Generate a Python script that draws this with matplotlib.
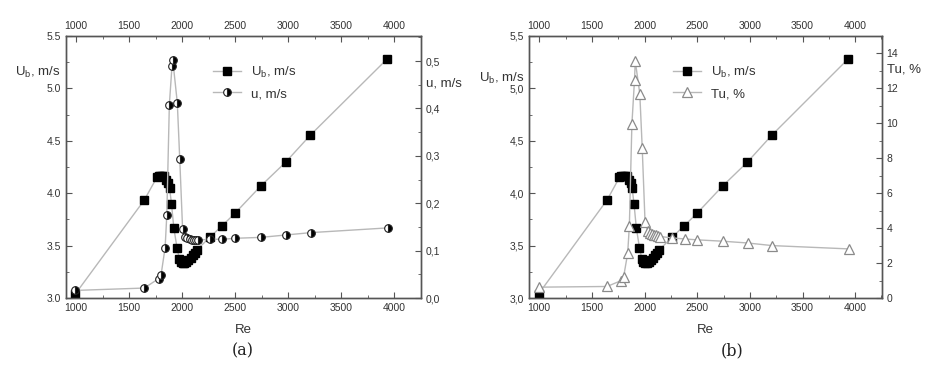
import numpy as np
import matplotlib.pyplot as plt
from matplotlib.ticker import MultipleLocator, FuncFormatter

# Bulk velocity U_b vs Re (same points in both panels)
re_ub = [995, 1644, 1762, 1778, 1795, 1812, 1830, 1850, 1868, 1882, 1900, 1922,
         1952, 1975, 1990, 2005, 2020, 2040, 2060, 2080, 2100, 2120, 2140,
         2262, 2378, 2500, 2743, 2975, 3210, 3932]
ub = [3.04, 3.935, 4.15, 4.16, 4.165, 4.16, 4.16, 4.13, 4.10, 4.05, 3.90, 3.67,
      3.48, 3.37, 3.345, 3.33, 3.33, 3.34, 3.36, 3.38, 3.41, 3.43, 3.46,
      3.58, 3.69, 3.81, 4.07, 4.295, 4.555, 5.28]

# Velocity fluctuation u and turbulence intensity Tu
re_u = [995, 1644, 1780, 1802, 1840, 1856, 1880, 1905, 1912, 1955, 1978, 2005,
        2030, 2050, 2070, 2090, 2110, 2130, 2150, 2262, 2380, 2500, 2745,
        2978, 3213, 3942]
u = [0.016, 0.021, 0.041, 0.049, 0.106, 0.175, 0.408, 0.49, 0.503, 0.412,
     0.293, 0.145, 0.128, 0.126, 0.124, 0.123, 0.122, 0.122, 0.122, 0.124,
     0.124, 0.126, 0.128, 0.133, 0.138, 0.148]
tu = [0.62, 0.66, 1.0, 1.23, 2.56, 4.14, 9.95, 12.5, 13.57, 11.7, 8.6, 4.33,
      3.85, 3.75, 3.68, 3.62, 3.58, 3.55, 3.52, 3.44, 3.38, 3.33, 3.25,
      3.15, 3.0, 2.81]

LINE = '#b8b8b8'
AX = '#555555'
TXT = '#333333'
plt.rcParams['font.family'] = ['Liberation Sans', 'DejaVu Sans']
plt.rcParams['mathtext.fontset'] = 'custom'
plt.rcParams['mathtext.rm'] = 'Liberation Sans'

UB_LABEL = r'U$_\mathrm{b}$, m/s'

W, H = 927, 370
fig = plt.figure(figsize=(W / 100, H / 100), dpi=100)


def comma(fmt):
    return FuncFormatter(lambda v, p: (fmt % v).replace('.', ','))


def style(ax):
    for s in ax.spines.values():
        s.set_color(AX)
        s.set_linewidth(1.0)
    ax.tick_params(which='both', direction='in', colors=AX, labelcolor=TXT,
                   labelsize=7.5, top=True)
    ax.tick_params(which='major', length=4)
    ax.tick_params(which='minor', length=2.5)


def panel(left, right, y2, y2lim, y2major, y2minor, y2fmt, left_fmt,
          marker_kw, lab2, ylab_y, lab2_y, caption, cap_x, leg_x):
    ax = fig.add_axes([left / W, 1 - 298 / H, (right - left) / W, 262 / H])
    ax.plot(re_ub, ub, color=LINE, lw=1, marker='s', ms=5.5, mfc='black',
            mec='black', label=UB_LABEL, zorder=3)
    ax.set_xlim(903, 4252)
    ax.set_ylim(3.0, 5.5)
    ax.xaxis.set_major_locator(MultipleLocator(500))
    ax.xaxis.set_minor_locator(MultipleLocator(250))
    ax.yaxis.set_major_locator(MultipleLocator(0.5))
    ax.yaxis.set_minor_locator(MultipleLocator(0.25))
    ax.yaxis.set_major_formatter(left_fmt)
    style(ax)
    ax.tick_params(axis='x', labeltop=True)
    ax.tick_params(axis='y', right=False)

    ax2 = ax.twinx()
    ax2.plot(re_u, y2, color=LINE, lw=1, label=lab2, zorder=2, **marker_kw)
    ax2.set_ylim(*y2lim)
    ax2.yaxis.set_major_locator(MultipleLocator(y2major))
    ax2.yaxis.set_minor_locator(MultipleLocator(y2minor))
    ax2.yaxis.set_major_formatter(y2fmt)
    style(ax2)
    ax2.tick_params(axis='x', top=False)

    h1, l1 = ax.get_legend_handles_labels()
    h2, l2 = ax2.get_legend_handles_labels()
    ax2.legend(h1 + h2, l1 + l2, loc='upper left', bbox_to_anchor=(leg_x, 0.89),
               frameon=False, fontsize=9.5, handlelength=2.1, handletextpad=0.8,
               labelspacing=0.6, borderpad=0, borderaxespad=0,
               labelcolor=TXT)

    fig.text((left - 5) / W, 1 - ylab_y / H, UB_LABEL, ha='right',
             va='center', fontsize=9.5, color=TXT)
    fig.text((right + 5) / W, 1 - lab2_y / H, lab2, ha='left',
             va='center', fontsize=9.5, color=TXT)
    fig.text((left + right) / 2 / W, 1 - 330 / H, 'Re', ha='center',
             va='center', fontsize=9.5, color=TXT)
    fig.text(cap_x / W, 1 - 351 / H, caption, ha='center', va='center',
             fontsize=11.5, family='DejaVu Serif', color='#222222')
    return ax, ax2


panel(65.7, 421, u, (0, 0.553), 0.1, 0.05, comma('%.1f'),
      FuncFormatter(lambda v, p: '%.1f' % v),
      dict(marker='o', ms=5.5, fillstyle='right', mfc='black', mec='#222222',
           mfcalt='white', mew=0.8),
      'u, m/s', 72, 83, '(a)', 243, 0.415)

panel(529, 881.7, tu, (0, 15), 2, 1, FuncFormatter(lambda v, p: '%d' % v),
      comma('%.1f'),
      dict(marker='^', ms=7, mfc='white', mec='#8a8a8a', mew=0.9),
      'Tu, %', 78, 70, '(b)', 732, 0.408)

fig.savefig('out.png', dpi=100, facecolor='white')
